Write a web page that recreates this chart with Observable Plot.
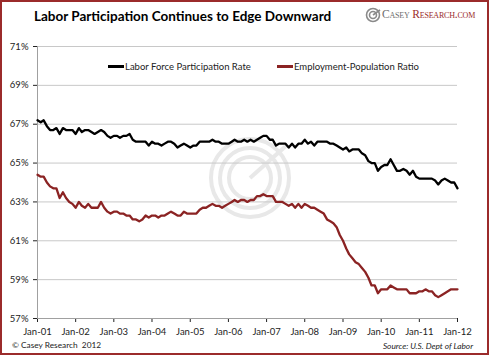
<!DOCTYPE html>
<html><head><meta charset="utf-8">
<script src="https://cdn.jsdelivr.net/npm/d3@7"></script>
<script src="https://cdn.jsdelivr.net/npm/@observablehq/plot@0.6"></script>
<style>
body{margin:0;background:#fff;}
#wrap{position:relative;width:489px;height:355px;overflow:hidden;font-family:Lato,sans-serif;background:#fff;}
#wm{position:absolute;left:0;top:0;}
#chart{position:absolute;left:0;top:0;}
#chart svg{background:transparent;}
.ov{position:absolute;white-space:nowrap;}
#title{left:34px;top:8px;font-size:13.5px;line-height:16px;font-weight:bold;color:#000;}
#logo{left:382px;top:7px;font-family:"Liberation Serif",serif;font-variant:small-caps;font-size:11.5px;line-height:14px;color:#6e6e6e;letter-spacing:-0.2px;}
#logo .r{color:#9b2b2b;}
.leg{top:61px;font-size:9.5px;line-height:11.4px;color:#222;}
.sw{display:inline-block;width:16px;height:2.4px;vertical-align:middle;margin-right:1px;position:relative;top:-1px;}
#capl{left:12px;top:340px;font-size:8.3px;line-height:10px;color:#222;}
#capr{right:16px;top:341px;font-size:8.3px;line-height:10px;color:#222;font-style:italic;}
#border{position:absolute;left:0;top:0;width:489px;height:355px;box-sizing:border-box;border:2px solid #9b2b2b;pointer-events:none;}
</style>
</head><body>
<div id="wrap">
  <svg id="wm" width="489" height="355">
    <g fill="none" stroke="#e8e8e8" stroke-width="4">
      <circle cx="250" cy="178" r="39"/>
      <circle cx="250" cy="178" r="30"/>
      <circle cx="250" cy="178" r="21"/>
      <path d="M250 178 L287 145"/>
    </g>
    <g fill="none" stroke="#8a8a8a" stroke-width="1.6">
      <circle cx="373" cy="15" r="6.5"/>
      <circle cx="373" cy="15" r="3.5"/>
      <path d="M373 15 L380 10"/>
    </g>
  </svg>
  <div id="chart"></div>
  <div class="ov" id="title">Labor Participation Continues to Edge Downward</div>
  <div class="ov" id="logo">Casey <span class="r">Research.com</span></div>
  <div class="ov leg" style="left:108px"><span class="sw" style="background:#000"></span>Labor Force Participation Rate</div>
  <div class="ov leg" style="left:277px"><span class="sw" style="background:#8b2323"></span>Employment-Population Ratio</div>
  <div class="ov" id="capl">© Casey Research&nbsp; 2012</div>
  <div class="ov" id="capr">Source: U.S. Dept of Labor</div>
  <div id="border"></div>
</div>
<script>
const startYear = 2001;
const labForcePart = [
  67.2,67.1,67.2,66.9,66.7,66.7,66.8,66.5,66.8,66.7,66.7,66.7,
  66.5,66.8,66.6,66.7,66.7,66.6,66.5,66.6,66.7,66.6,66.4,66.3,
  66.4,66.4,66.3,66.4,66.4,66.5,66.2,66.1,66.1,66.1,66.1,65.9,
  66.1,66.0,66.0,65.9,66.0,66.1,66.1,66.0,65.8,65.9,66.0,65.9,
  65.8,65.9,65.9,66.1,66.1,66.1,66.1,66.2,66.1,66.1,66.0,66.0,
  66.0,66.1,66.2,66.1,66.1,66.2,66.1,66.2,66.1,66.2,66.3,66.4,
  66.4,66.2,66.2,65.9,66.0,66.0,66.0,65.8,66.0,65.8,66.0,66.0,
  66.2,66.0,66.1,65.9,66.1,66.1,66.1,66.1,66.0,66.0,65.9,65.8,
  65.7,65.8,65.6,65.7,65.7,65.7,65.5,65.4,65.1,65.0,65.0,64.6,
  64.8,64.9,64.9,65.2,64.9,64.6,64.6,64.7,64.6,64.4,64.6,64.3,
  64.2,64.2,64.2,64.2,64.2,64.1,63.9,64.1,64.2,64.1,64.0,64.0,
  63.7
];
const empPopRatio = [
  64.4,64.3,64.3,64.0,63.8,63.7,63.7,63.2,63.5,63.2,63.0,62.9,
  62.7,63.0,62.8,62.7,62.9,62.7,62.7,62.7,63.0,62.7,62.5,62.4,
  62.5,62.5,62.4,62.4,62.3,62.3,62.1,62.1,62.0,62.1,62.3,62.2,
  62.3,62.3,62.2,62.3,62.3,62.4,62.5,62.4,62.3,62.3,62.5,62.4,
  62.4,62.4,62.4,62.6,62.7,62.7,62.8,62.9,62.8,62.8,62.7,62.8,
  62.9,63.0,63.1,63.0,63.1,63.1,63.0,63.1,63.1,63.3,63.3,63.4,
  63.3,63.3,63.3,63.0,63.0,63.0,62.9,62.8,62.9,62.7,62.9,62.7,
  62.9,62.8,62.7,62.7,62.6,62.5,62.4,62.1,62.0,61.9,61.7,61.3,
  61.0,60.6,60.3,60.1,59.9,59.8,59.6,59.4,59.1,58.7,58.7,58.3,
  58.5,58.5,58.5,58.7,58.6,58.5,58.5,58.5,58.5,58.3,58.3,58.3,
  58.4,58.4,58.5,58.4,58.4,58.2,58.1,58.2,58.3,58.4,58.5,58.5,
  58.5
];
const xTickLabels = ["Jan-01","Jan-02","Jan-03","Jan-04","Jan-05","Jan-06","Jan-07","Jan-08","Jan-09","Jan-10","Jan-11","Jan-12"];
const yTicks = [57,59,61,63,65,67,69,71];

const monthDate = i => new Date(Date.UTC(startYear, i, 1));
const lfData = labForcePart.map((v, i) => ({date: monthDate(i), v}));
const epData = empPopRatio.map((v, i) => ({date: monthDate(i), v}));
const xTickDates = xTickLabels.map((s, i) => new Date(Date.UTC(startYear + i, 0, 1)));
const labelOf = new Map(xTickDates.map((d, i) => [+d, xTickLabels[i]]));

const chart = Plot.plot({
  width: 489, height: 355,
  marginLeft: 37, marginRight: 32, marginTop: 46, marginBottom: 37,
  style: {fontFamily: "Lato, sans-serif", fontSize: "9.5px", color: "#222", background: "transparent", overflow: "visible"},
  x: {type: "utc", domain: [xTickDates[0], xTickDates[xTickDates.length - 1]], ticks: xTickDates,
      tickFormat: d => labelOf.get(+d), tickSize: 4, tickPadding: 6, label: null},
  y: {domain: [57, 71], ticks: yTicks, tickFormat: d => d + "%", tickSize: 4, tickPadding: 5, label: null},
  marks: [
    Plot.ruleY(yTicks.filter(v => v > 57), {stroke: "#c8c8c8", strokeWidth: 1}),
    Plot.ruleY([57], {stroke: "#a0a0a0", strokeWidth: 1}),
    Plot.ruleX([xTickDates[0]], {stroke: "#a0a0a0", strokeWidth: 1}),
    Plot.lineY(lfData, {x: "date", y: "v", stroke: "#000", strokeWidth: 2.3}),
    Plot.lineY(epData, {x: "date", y: "v", stroke: "#8b2323", strokeWidth: 2.3})
  ]
});
document.getElementById("chart").appendChild(chart);
</script>
</body></html>
